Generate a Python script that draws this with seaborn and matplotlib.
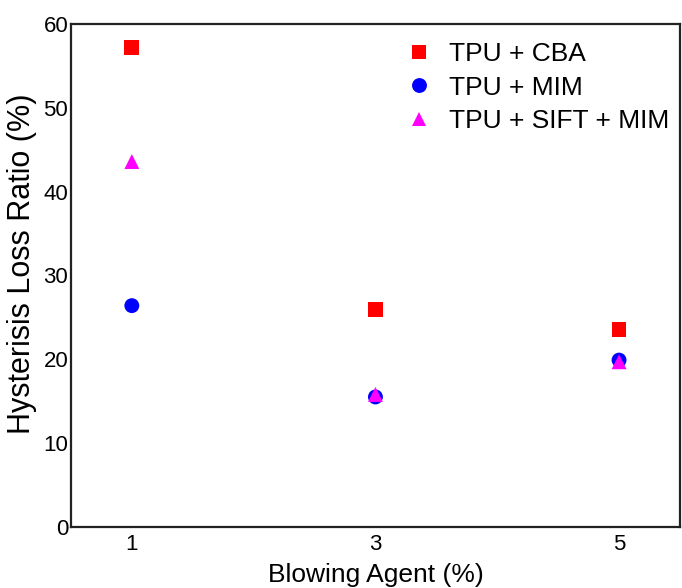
import matplotlib
matplotlib.use("Agg")
import matplotlib.pyplot as plt
import seaborn as sns
import pandas as pd

blowing_agent = [1, 3, 5]
tpu_cba = [57.2, 25.9, 23.6]
tpu_mim = [26.4, 15.5, 19.9]
tpu_sift_mim = [43.6, 15.8, 19.7]
series_names = ["TPU + CBA", "TPU + MIM", "TPU + SIFT + MIM"]
y_ticks = [0, 10, 20, 30, 40, 50, 60]
x_ticks = [1, 3, 5]

sns.set_style("white")
plt.rcParams['font.family'] = ['Liberation Sans', 'DejaVu Sans']
plt.rcParams['text.color'] = 'black'
plt.rcParams['axes.labelcolor'] = 'black'
plt.rcParams['xtick.color'] = 'black'
plt.rcParams['ytick.color'] = 'black'

rows = []
for name, vals in zip(series_names, [tpu_cba, tpu_mim, tpu_sift_mim]):
    for x, v in zip(blowing_agent, vals):
        rows.append({"Blowing Agent": x, "Ratio": v, "Series": name})
df = pd.DataFrame(rows)

fig = plt.figure(figsize=(6.82, 5.88), dpi=100)
ax = fig.add_axes([0.104, 0.104, 0.893, 0.855])

palette = {"TPU + CBA": "#ff0000", "TPU + MIM": "#0000ff", "TPU + SIFT + MIM": "#ff00ff"}
markers = {"TPU + CBA": "s", "TPU + MIM": "o", "TPU + SIFT + MIM": "^"}
sns.scatterplot(data=df, x="Blowing Agent", y="Ratio", hue="Series", style="Series",
                palette=palette, markers=markers, s=115, linewidth=0, ax=ax)

ax.set_xlim(0.5, 5.5)
ax.set_ylim(0, 60)
ax.set_xticks(x_ticks)
ax.set_yticks(y_ticks)
ax.tick_params(axis='y', length=0, labelsize=16, pad=2)
ax.tick_params(axis='x', length=0, labelsize=16, pad=5)
for s in ax.spines.values():
    s.set_color("#222222")
    s.set_linewidth(1.6)
ax.set_xlabel("Blowing Agent (%)", fontsize=19, labelpad=6)
ax.set_ylabel("Hysterisis Loss Ratio (%)", fontsize=22)
ax.yaxis.set_label_coords(-0.055, 0.523)

leg = ax.legend(loc="upper right", bbox_to_anchor=(1.0, 0.985), frameon=False,
                fontsize=19, markerscale=1.0, handletextpad=0.4, labelspacing=0.36,
                borderaxespad=0.0, handlelength=1.5)

fig.savefig("out.png", dpi=100)
